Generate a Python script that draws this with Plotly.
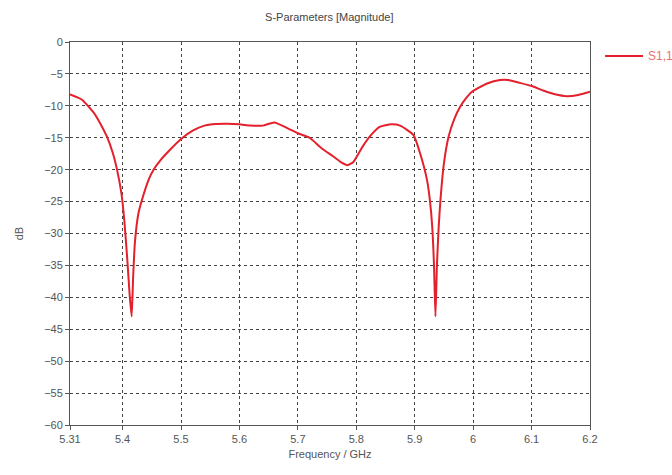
import plotly.graph_objects as go

# S11 magnitude sweep (GHz, dB)
freq_ghz = [5.31, 5.33, 5.35, 5.362, 5.373, 5.383, 5.39, 5.398, 5.403, 5.408, 5.412,
            5.4155, 5.418, 5.421, 5.427, 5.433, 5.445, 5.453, 5.465, 5.48,
            5.5, 5.52, 5.54, 5.56, 5.58, 5.6, 5.62, 5.64, 5.66, 5.68,
            5.7, 5.72, 5.74, 5.76, 5.775, 5.785, 5.795, 5.81, 5.825, 5.84,
            5.86, 5.875, 5.898, 5.909, 5.921, 5.926, 5.93, 5.933, 5.9355,
            5.938, 5.941, 5.944, 5.95, 5.958, 5.968, 5.978, 5.988, 5.998, 6.024,
            6.046, 6.06, 6.08, 6.1, 6.12, 6.14, 6.16, 6.18, 6.2]
s11_db = [-8.2, -9.0, -11.0, -12.8, -14.8, -17.3, -19.8, -23.7, -28.0, -34.0, -39.5,
          -43.0, -37.0, -31.5, -26.9, -24.8, -21.5, -20.0, -18.5, -17.0,
          -15.2, -13.9, -13.1, -12.85, -12.8, -12.9, -13.1, -13.1, -12.6, -13.4,
          -14.3, -15.0, -16.6, -17.9, -18.9, -19.3, -18.8, -16.5, -14.6, -13.3,
          -12.9, -13.1, -14.6, -17.4, -21.6, -24.8, -29.0, -35.0, -43.0,
          -35.0, -29.0, -24.8, -19.0, -14.8, -12.0, -10.1, -8.8, -7.8, -6.5,
          -5.95, -5.95, -6.4, -6.9, -7.6, -8.2, -8.5, -8.3, -7.8]
series_name = "S1,1"

x_ticks = [5.31, 5.4, 5.5, 5.6, 5.7, 5.8, 5.9, 6.0, 6.1, 6.2]
x_tick_text = ["5.31", "5.4", "5.5", "5.6", "5.7", "5.8", "5.9", "6", "6.1", "6.2"]
y_ticks = list(range(-60, 1, 5))

font_family = "Liberation Sans, Arial, sans-serif"
text_gray = "#555555"
line_red = "#e3202b"

fig = go.Figure()
fig.add_trace(go.Scatter(
    x=freq_ghz, y=s11_db, mode="lines", name=series_name, showlegend=False,
    line=dict(color=line_red, width=2, shape="spline", smoothing=0.5),
))

axis_common = dict(
    showline=True, linecolor="#555555", linewidth=1, mirror=True,
    ticks="outside", ticklen=4, tickcolor="#555555",
    showgrid=True, gridcolor="#444444", gridwidth=1, griddash="dot",
    zeroline=False, tickfont=dict(size=11, color=text_gray, family=font_family),
)

fig.update_xaxes(
    range=[5.31, 6.2], tickvals=x_ticks, ticktext=x_tick_text,
    title=dict(text="Frequency / GHz", font=dict(size=11, color=text_gray, family=font_family), standoff=6),
    **axis_common,
)
fig.update_yaxes(
    range=[-60, 0], tickvals=y_ticks,
    title=dict(text="dB", font=dict(size=11, color=text_gray, family=font_family), standoff=18),
    **axis_common,
)

# Key to the right of the plot area: a short line sample followed by the series name
fig.add_shape(type="line", xref="paper", yref="paper", x0=1.029, x1=1.102, y0=0.9634, y1=0.9634,
              line=dict(color=line_red, width=2))
fig.add_annotation(xref="paper", yref="paper", x=1.107, y=0.9634, xanchor="left", yanchor="middle",
                   text=series_name, showarrow=False,
                   font=dict(size=12, color="#e87070", family=font_family))

fig.update_layout(
    width=672, height=475,
    margin=dict(l=70, r=82, t=42, b=50, autoexpand=False),
    paper_bgcolor="white", plot_bgcolor="white",
    title=dict(text="S-Parameters [Magnitude]", x=0.49, xanchor="center", y=0.963, yanchor="middle",
               font=dict(size=11, color="#444444", family=font_family)),
)

fig.write_html("out.html")
